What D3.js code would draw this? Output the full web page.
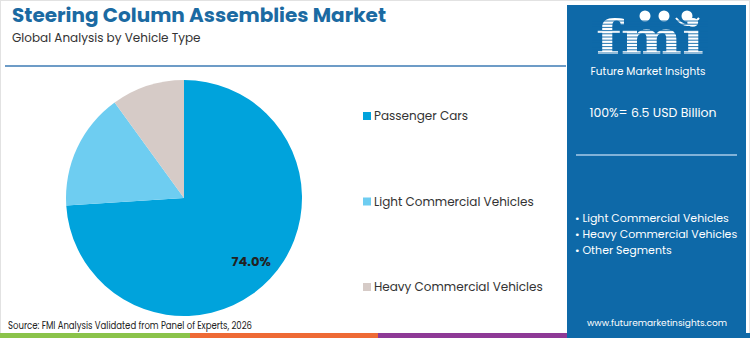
<!DOCTYPE html>
<html>
<head>
<meta charset="utf-8">
<script src="https://cdn.jsdelivr.net/npm/d3@7"></script>
<style>
  body { margin: 0; background: #fff; }
  svg { display: block; font-family: "Poppins", "Inter", "Open Sans", sans-serif; }
</style>
</head>
<body>
<div class="chart"></div>
<script>
const segments = ['Passenger Cars', 'Light Commercial Vehicles', 'Heavy Commercial Vehicles'];
const shares = [74.0, 16.0, 10.0];
const colors = ['#00a3dc', '#6ecdf1', '#d6cbc7'];
const panelItems = ['Light Commercial Vehicles', 'Heavy Commercial Vehicles', 'Other Segments'];
const stripColors = ['#8bc34a', '#ee6a35', '#8e3a96', '#0e69a8'];

const width = 750;
const height = 338;

const svg = d3.select('.chart')
  .append('svg')
  .attr('width', width)
  .attr('height', height);

// outer border
svg.append('rect')
  .attr('x', 0.5).attr('y', 0.5)
  .attr('width', width - 1).attr('height', height - 1)
  .attr('fill', 'none')
  .attr('stroke', '#e2e2e2');

// titles
svg.append('text')
  .attr('x', 12).attr('y', 22)
  .attr('font-size', 20)
  .attr('font-weight', 700)
  .attr('fill', '#1b6aa2')
  .text('Steering Column Assemblies Market');

svg.append('text')
  .attr('x', 12).attr('y', 42)
  .attr('font-size', 12)
  .attr('fill', '#333')
  .text('Global Analysis by Vehicle Type');

svg.append('line')
  .attr('x1', 5).attr('x2', 566)
  .attr('y1', 66).attr('y2', 66)
  .attr('stroke', '#3d7bb5')
  .attr('stroke-width', 1.5);

// pie
const cx = 184, cy = 198, r = 118;
const pie = d3.pie().sort(null).value(d => d)(shares);
const arc = d3.arc().innerRadius(0).outerRadius(r);

const g = svg.append('g').attr('transform', `translate(${cx},${cy})`);
g.selectAll('path')
  .data(pie)
  .enter()
  .append('path')
  .attr('d', arc)
  .attr('fill', (d, i) => colors[i]);

const labelArc = d3.arc().innerRadius(r * 0.78).outerRadius(r * 0.78);
g.append('text')
  .datum(pie[0])
  .attr('transform', d => {
    const c = labelArc.centroid(d);
    return `translate(${c[0]},${c[1]})`;
  })
  .attr('text-anchor', 'middle')
  .attr('dy', '0.35em')
  .attr('font-size', 13)
  .attr('font-weight', 700)
  .attr('fill', '#222')
  .text(d => d.data.toFixed(1) + '%');

// legend
const legendY = d3.scalePoint().domain(segments).range([116, 287]);
const legend = svg.selectAll('.legend')
  .data(segments)
  .enter()
  .append('g')
  .attr('class', 'legend')
  .attr('transform', d => `translate(363,${legendY(d)})`);

legend.append('rect')
  .attr('x', 0).attr('y', -4)
  .attr('width', 8).attr('height', 8)
  .attr('fill', (d, i) => colors[i]);

legend.append('text')
  .attr('x', 11).attr('y', 0)
  .attr('dy', '0.35em')
  .attr('font-size', 12)
  .attr('fill', '#333')
  .text(d => d);

// bottom strip
svg.selectAll('.strip')
  .data(stripColors)
  .enter()
  .append('rect')
  .attr('x', (d, i) => [0, 190, 378, 567][i])
  .attr('y', 333)
  .attr('width', (d, i) => [190, 188, 189, 183][i])
  .attr('height', 5)
  .attr('fill', d => d);

svg.append('text')
  .attr('x', 8).attr('y', 329)
  .attr('font-size', 10)
  .attr('fill', '#222')
  .attr('textLength', 244)
  .attr('lengthAdjust', 'spacingAndGlyphs')
  .text('Source: FMI Analysis Validated from Panel of Experts, 2026');

// right panel
svg.append('rect')
  .attr('x', 567).attr('y', 5)
  .attr('width', 179).attr('height', 333)
  .attr('fill', '#0e69a8');

// logo
const logo = svg.append('g');
logo.append('text')
  .attr('x', 596).attr('y', 53.5)
  .attr('font-family', 'DejaVu Serif')
  .attr('font-size', 46)
  .attr('font-weight', 700)
  .attr('fill', '#fff')
  .attr('textLength', 108)
  .attr('lengthAdjust', 'spacingAndGlyphs')
  .text('fmi');
[645, 664, 687].forEach(x => {
  logo.append('circle').attr('cx', x).attr('cy', 16).attr('r', 5.5).attr('fill', '#fff');
});
logo.append('path')
  .attr('d', 'M676,18 Q687,32 699,18')
  .attr('fill', 'none')
  .attr('stroke', '#fff')
  .attr('stroke-width', 2);
for (let y = 21; y < 55; y += 3.2) {
  logo.append('line')
    .attr('x1', 592).attr('x2', 708)
    .attr('y1', y).attr('y2', y)
    .attr('stroke', '#0e69a8')
    .attr('stroke-width', 0.9);
}
svg.append('text')
  .attr('x', 648).attr('y', 75)
  .attr('text-anchor', 'middle')
  .attr('font-size', 10.5)
  .attr('fill', '#fff')
  .text('Future Market Insights');

svg.append('text')
  .attr('x', 653).attr('y', 117)
  .attr('text-anchor', 'middle')
  .attr('font-size', 12.5)
  .attr('fill', '#fff')
  .text('100%= 6.5 USD Billion');

svg.append('line')
  .attr('x1', 576).attr('x2', 737)
  .attr('y1', 155).attr('y2', 155)
  .attr('stroke', '#a9cbe8')
  .attr('stroke-width', 1.5);

svg.selectAll('.pitem')
  .data(panelItems)
  .enter()
  .append('text')
  .attr('class', 'pitem')
  .attr('x', 575)
  .attr('y', (d, i) => 222 + i * 16)
  .attr('font-size', 11)
  .attr('fill', '#fff')
  .text(d => '• ' + d);

svg.append('text')
  .attr('x', 657).attr('y', 326)
  .attr('text-anchor', 'middle')
  .attr('font-size', 9)
  .attr('fill', '#fff')
  .text('www.futuremarketinsights.com');
</script>
</body>
</html>
